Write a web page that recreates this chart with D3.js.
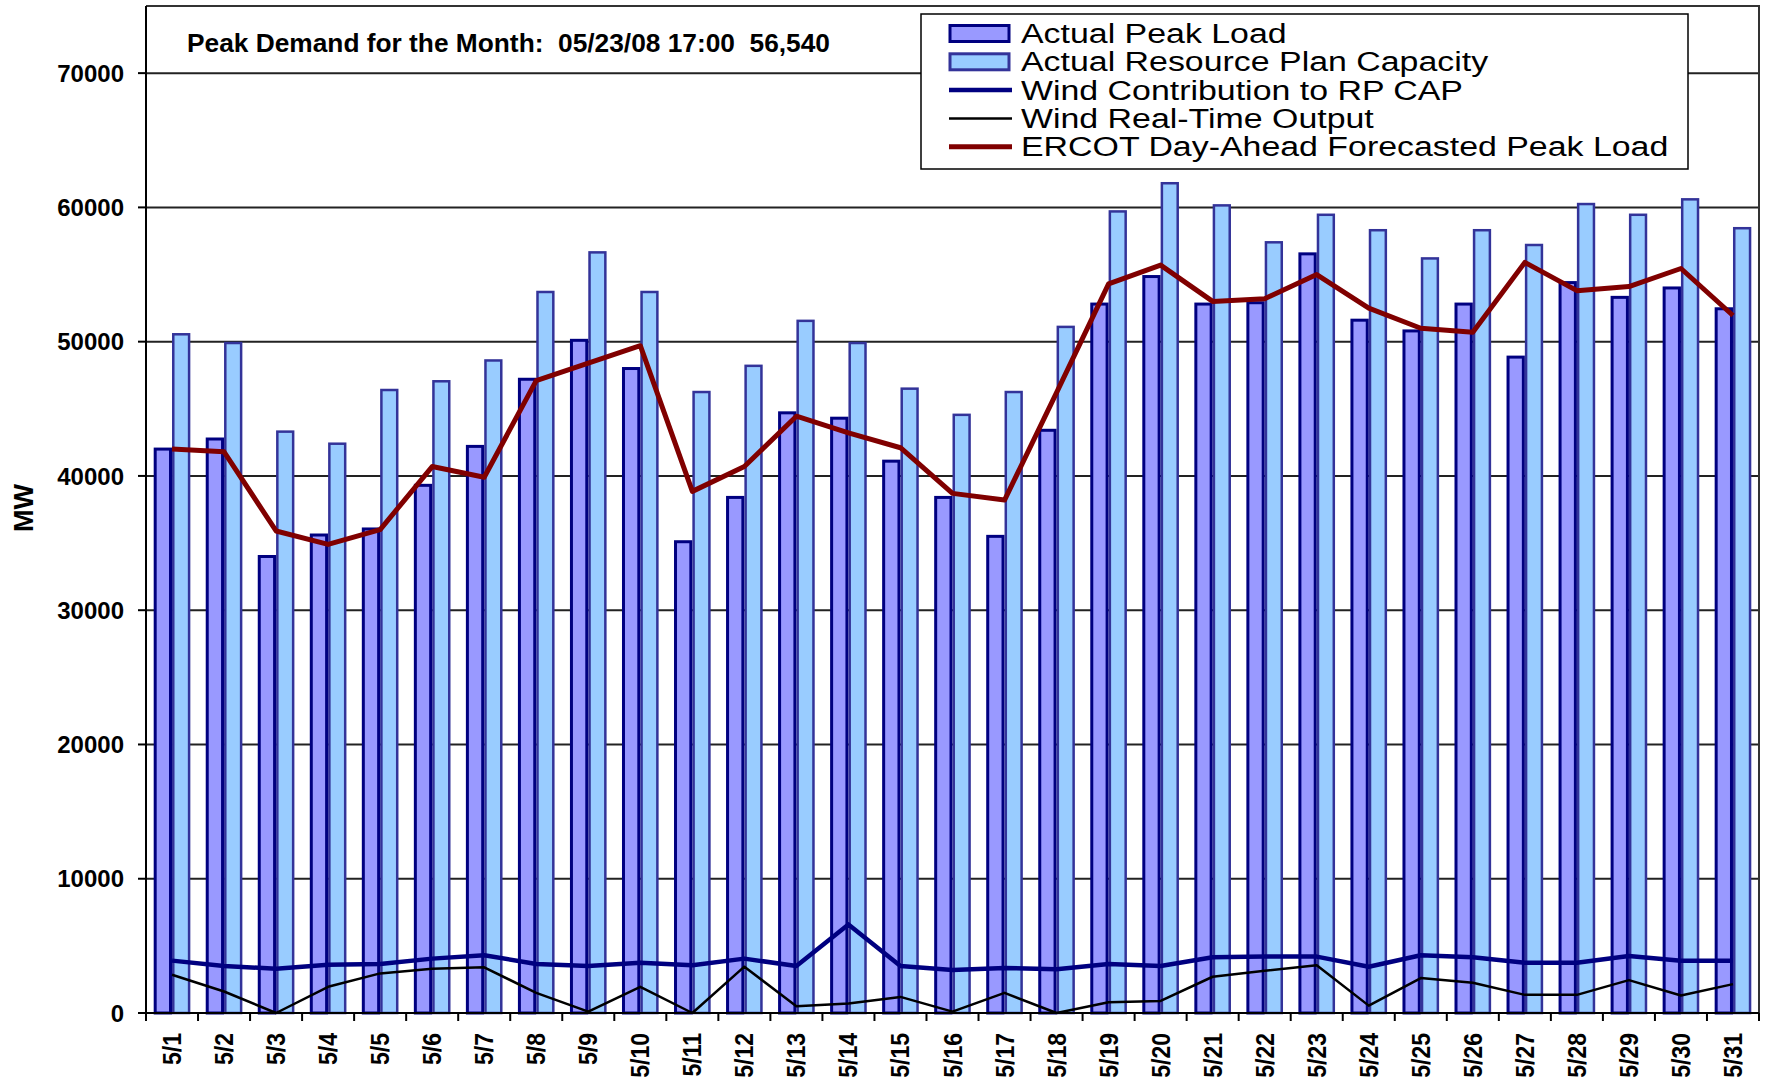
<!DOCTYPE html>
<html>
<head>
<meta charset="utf-8">
<script src="https://cdn.jsdelivr.net/npm/d3@7"></script>
<style>
  body { margin: 0; background: #fff; }
  svg { display: block; font-family: "Liberation Sans", Arial, sans-serif; }
</style>
</head>
<body>
<svg id="chart" width="1766" height="1081"></svg>
<script>
const days = d3.range(1, 32).map((d) => `5/${d}`);

const peakLoad = [42000, 42750, 34000, 35600, 36050, 39300, 42200, 47200, 50100, 48000, 35100,
  38400, 44700, 44300, 41100, 38400, 35500, 43400, 52800, 54850, 52800, 52900, 56540, 51600,
  50800, 52800, 48850, 54400, 53300, 54000, 52450];

const rpCapacity = [50550, 49900, 43300, 42400, 46400, 47050, 48600, 53700, 56650, 53700, 46250,
  48200, 51550, 49900, 46500, 44550, 46250, 51100, 59700, 61800, 60150, 57400, 59450, 58300,
  56200, 58300, 57200, 60250, 59450, 60600, 58450];

const windRp = [3900, 3500, 3300, 3600, 3650, 4050, 4300, 3650, 3500, 3750, 3550, 4050, 3500,
  6600, 3500, 3200, 3350, 3250, 3650, 3500, 4150, 4200, 4200, 3450, 4300, 4150, 3750, 3750,
  4250, 3900, 3900];

const windRt = [2850, 1600, 0, 1950, 2950, 3300, 3400, 1500, 100, 1950, 0, 3450, 500, 700, 1200,
  100, 1500, 0, 800, 900, 2700, 3150, 3550, 550, 2600, 2250, 1350, 1350, 2450, 1300, 2150];

const forecast = [42000, 41800, 35900, 34900, 36000, 40700, 39900, 47100, 48400, 49700, 38850,
  40700, 44450, 43200, 42100, 38700, 38200, 46200, 54300, 55700, 53000, 53200, 55000, 52500,
  51000, 50700, 55900, 53800, 54100, 55450, 51950];

const yTicks = [0, 10000, 20000, 30000, 40000, 50000, 60000, 70000];
const title = "Peak Demand for the Month:  05/23/08 17:00  56,540";

const svg = d3.select("#chart");
const plotLeft = 146, plotRight = 1759, plotTop = 6, plotBottom = 1013;

const x = d3.scaleBand().domain(days).range([plotLeft, plotRight]);
const x1 = d3.scaleBand().domain(["load", "cap"]).range([0, x.bandwidth()]).paddingOuter(0.42);
const y = d3.scaleLinear().domain([0, 75000]).range([plotBottom, plotTop]);

// gridlines
svg.append("g")
  .selectAll("line")
  .data(yTicks.slice(1))
  .join("line")
  .attr("x1", plotLeft).attr("x2", plotRight)
  .attr("y1", (d) => y(d)).attr("y2", (d) => y(d))
  .attr("stroke", "#222").attr("stroke-width", 2);

// frame (top + right)
svg.append("path")
  .attr("d", `M${plotLeft},${plotTop}H${plotRight}V${plotBottom}`)
  .attr("fill", "none").attr("stroke", "#333").attr("stroke-width", 2);

// bars
const bars = svg.append("g");
bars.selectAll(".load")
  .data(peakLoad)
  .join("rect")
  .attr("x", (d, i) => x(days[i]) + x1("load") + 1.5)
  .attr("y", (d) => y(d))
  .attr("width", x1.bandwidth() - 3)
  .attr("height", (d) => plotBottom - y(d))
  .attr("fill", "#9999ff").attr("stroke", "#000080").attr("stroke-width", 3);
bars.selectAll(".cap")
  .data(rpCapacity)
  .join("rect")
  .attr("x", (d, i) => x(days[i]) + x1("cap") + 1.25)
  .attr("y", (d) => y(d))
  .attr("width", x1.bandwidth() - 2.5)
  .attr("height", (d) => plotBottom - y(d))
  .attr("fill", "#99ccff").attr("stroke", "#333399").attr("stroke-width", 2.5);

// lines
const line = d3.line()
  .x((d, i) => x(days[i]) + x.bandwidth() / 2)
  .y((d) => y(d));

svg.append("path").datum(windRp)
  .attr("fill", "none").attr("stroke", "#000080").attr("stroke-width", 4.5)
  .attr("stroke-linejoin", "round").attr("d", line);
svg.append("path").datum(windRt)
  .attr("fill", "none").attr("stroke", "#000").attr("stroke-width", 2.5)
  .attr("stroke-linejoin", "round").attr("d", line);
svg.append("path").datum(forecast)
  .attr("fill", "none").attr("stroke", "#800000").attr("stroke-width", 5)
  .attr("stroke-linejoin", "round").attr("d", line);

// y axis
svg.append("line")
  .attr("x1", plotLeft).attr("x2", plotLeft).attr("y1", plotTop).attr("y2", plotBottom)
  .attr("stroke", "#000").attr("stroke-width", 2);
const yAx = svg.append("g");
yAx.selectAll("line")
  .data(yTicks)
  .join("line")
  .attr("x1", plotLeft - 8).attr("x2", plotLeft)
  .attr("y1", (d) => y(d)).attr("y2", (d) => y(d))
  .attr("stroke", "#000").attr("stroke-width", 2);
yAx.selectAll("text")
  .data(yTicks)
  .join("text")
  .attr("x", 124).attr("y", (d) => y(d)).attr("dy", "0.36em")
  .attr("text-anchor", "end")
  .attr("font-size", 24).attr("font-weight", "bold")
  .text((d) => d);

svg.append("text")
  .attr("transform", "translate(33,508) rotate(-90)")
  .attr("text-anchor", "middle")
  .attr("font-size", 27).attr("font-weight", "bold")
  .text("MW");

// x axis
svg.append("line")
  .attr("x1", plotLeft).attr("x2", plotRight).attr("y1", plotBottom).attr("y2", plotBottom)
  .attr("stroke", "#000").attr("stroke-width", 2);
const xAx = svg.append("g");
xAx.selectAll("line")
  .data(days.concat(["end"]))
  .join("line")
  .attr("x1", (d, i) => plotLeft + i * x.bandwidth())
  .attr("x2", (d, i) => plotLeft + i * x.bandwidth())
  .attr("y1", plotBottom).attr("y2", plotBottom + 8)
  .attr("stroke", "#000").attr("stroke-width", 2);
xAx.selectAll("text")
  .data(days)
  .join("text")
  .attr("transform", (d) => `translate(${x(d) + x.bandwidth() / 2 + 9},1033) rotate(-90) scale(0.92,1)`)
  .attr("text-anchor", "end")
  .attr("font-size", 25).attr("font-weight", "bold")
  .text((d) => d);

// title
svg.append("text")
  .attr("x", 187).attr("y", 52)
  .attr("font-size", 25).attr("font-weight", "bold")
  .style("white-space", "pre")
  .attr("textLength", 643).attr("lengthAdjust", "spacingAndGlyphs")
  .text(title);

// legend
const legendItems = [
  { name: "Actual Peak Load", type: "rect", fill: "#9999ff", stroke: "#000080" },
  { name: "Actual Resource Plan Capacity", type: "rect", fill: "#99ccff", stroke: "#333399" },
  { name: "Wind Contribution to RP CAP", type: "line", stroke: "#000080", w: 4.5 },
  { name: "Wind Real-Time Output", type: "line", stroke: "#000", w: 2.5 },
  { name: "ERCOT Day-Ahead Forecasted Peak Load", type: "line", stroke: "#800000", w: 5 },
];
const legend = svg.append("g");
legend.append("rect")
  .attr("x", 921).attr("y", 14).attr("width", 767).attr("height", 155)
  .attr("fill", "#fff").attr("stroke", "#000").attr("stroke-width", 1.5);
const rows = legend.selectAll("g")
  .data(legendItems)
  .join("g")
  .attr("transform", (d, i) => `translate(0,${33.5 + i * 28.3})`);
rows.filter((d) => d.type === "rect")
  .append("rect")
  .attr("x", 950).attr("y", -8).attr("width", 59).attr("height", 16)
  .attr("fill", (d) => d.fill).attr("stroke", (d) => d.stroke).attr("stroke-width", 3);
rows.filter((d) => d.type === "line")
  .append("line")
  .attr("x1", 949).attr("x2", 1012).attr("y1", 0).attr("y2", 0)
  .attr("stroke", (d) => d.stroke).attr("stroke-width", (d) => d.w);
rows.append("text")
  .attr("x", 1021).attr("y", 9.5)
  .attr("font-size", 27)
  .text((d) => d.name)
  .each(function () {
    const w = this.getComputedTextLength();
    d3.select(this).attr("textLength", w * 1.255).attr("lengthAdjust", "spacingAndGlyphs");
  });
</script>
</body>
</html>
